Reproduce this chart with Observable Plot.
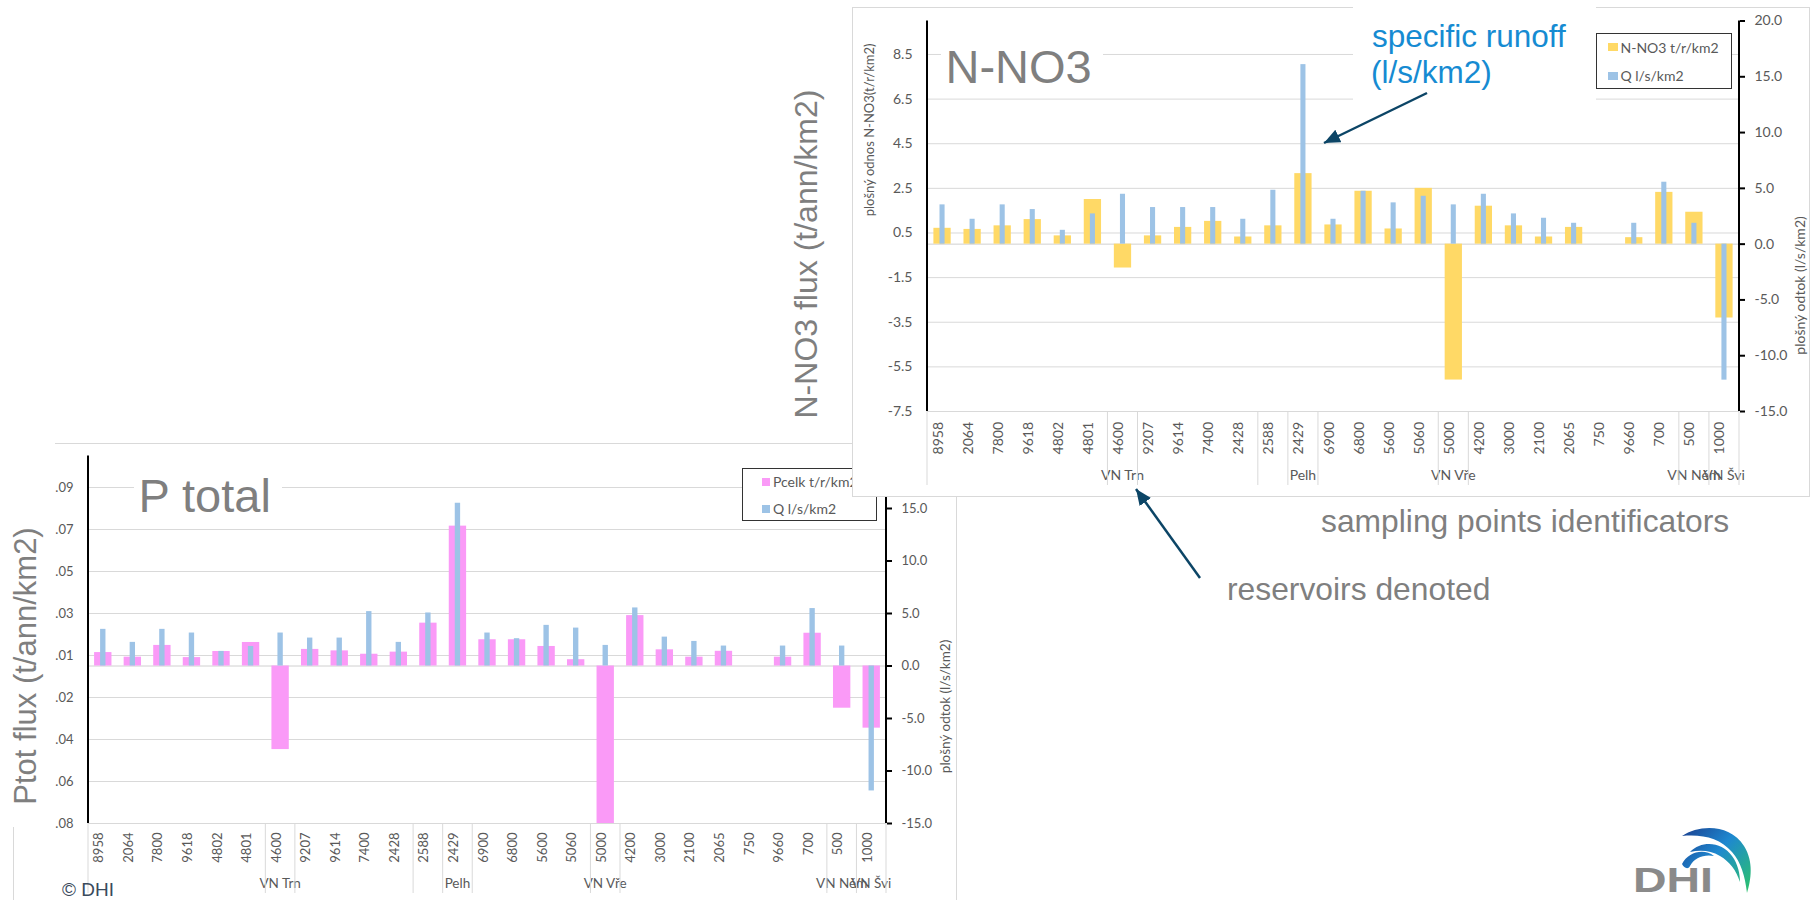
<!DOCTYPE html>
<html>
<head>
<meta charset="utf-8">
<script src="https://cdn.jsdelivr.net/npm/d3@7"></script>
<script src="https://cdn.jsdelivr.net/npm/@observablehq/plot@0.6"></script>
<style>
  html, body { margin: 0; padding: 0; background: #fff; }
  #page { position: relative; width: 1810px; height: 900px; overflow: hidden; background: #fff; font-family: Lato, sans-serif; }
  .abs { position: absolute; }
  .legend { position: absolute; background: #fff; border: 1.5px solid #333; box-sizing: border-box; font-family: Lato, sans-serif; font-size: 14px; color: #595959; }
  .legend .row { position: absolute; height: 18px; display: flex; align-items: center; white-space: nowrap; }
  .legend .sw { display: inline-block; margin-right: 3px; }
</style>
</head>
<body>
<div id="page"></div>
<script>
// ---------------- data ----------------
const stations = ["8958","2064","7800","9618","4802","4801","4600","9207","9614","7400","2428","2588","2429","6900","6800","5600","5060","5000","4200","3000","2100","2065","750","9660","700","500","1000"];
const groupLabels = ["", "VN Trn", "", "", "Pelh", "", "VN Vře", "", "VN Něm", "VN Švi"];
const groupSizes = [6, 1, 4, 1, 1, 4, 1, 7, 1, 1];

const no3Flux = [0.71, 0.66, 0.82, 1.10, 0.37, 2.00, -1.07, 0.37, 0.75, 1.02, 0.32, 0.82, 3.16, 0.86, 2.37, 0.68, 2.50, -6.09, 1.70, 0.82, 0.32, 0.75, null, 0.29, 2.32, 1.43, -3.31];
const no3Runoff = [3.52, 2.23, 3.52, 3.10, 1.24, 2.71, 4.47, 3.28, 3.28, 3.28, 2.23, 4.83, 16.09, 2.23, 4.74, 3.70, 4.29, 3.52, 4.47, 2.71, 2.32, 1.87, null, 1.87, 5.55, 1.87, -12.19];
const pFlux = [0.0064, 0.0042, 0.0098, 0.0040, 0.0069, 0.0112, -0.0398, 0.0079, 0.0072, 0.0056, 0.0066, 0.0204, 0.0666, 0.0125, 0.0125, 0.0093, 0.0030, -0.075, 0.0240, 0.0077, 0.0042, 0.0070, null, 0.0042, 0.0156, -0.0201, -0.0296];
const pRunoff = [3.49, 2.25, 3.49, 3.14, 1.39, 1.86, 3.14, 2.66, 2.66, 5.18, 2.25, 5.05, 15.5, 3.14, 2.60, 3.87, 3.61, 1.96, 5.53, 2.75, 2.34, 1.90, null, 1.90, 5.47, 1.90, -11.9];

const no3Domain = [-7.5, 10];
const no3Ticks = [8.5, 6.5, 4.5, 2.5, 0.5, -1.5, -3.5, -5.5, -7.5];
const no3TickLabels = ["8.5", "6.5", "4.5", "2.5", "0.5", "-1.5", "-3.5", "-5.5", "-7.5"];
const pDomain = [-0.075, 0.1];
const pTicks = [0.085, 0.065, 0.045, 0.025, 0.005, -0.015, -0.035, -0.055, -0.075];
const pTickLabels = [".09", ".07", ".05", ".03", ".01", ".02", ".04", ".06", ".08"];
const runoffDomain = [-15, 20];
const runoffTicks = [20, 15, 10, 5, 0, -5, -10, -15];
const runoffTickLabels = ["20.0", "15.0", "10.0", "5.0", "0.0", "-5.0", "-10.0", "-15.0"];

const no3Series = ["N-NO3 t/r/km2", "Q l/s/km2"];
const pSeries = ["Pcelk t/r/km2", "Q l/s/km2"];
const no3LeftTitle = "plošný odnos N-NO3(t/r/km2)";
const runoffTitle = "plošný odtok (l/s/km2)";

const COL_NO3 = "#FFD966", COL_Q = "#9DC3E6", COL_P = "#FA9AF7";
const TXT = "#595959";

// ---------------- helpers ----------------
function axisLine(side) {
  return (index, scales, values, dims) => {
    const x = side === "left" ? dims.marginLeft : dims.width - dims.marginRight;
    return d3.create("svg:line")
      .attr("x1", x).attr("x2", x)
      .attr("y1", dims.marginTop).attr("y2", dims.height - dims.marginBottom)
      .attr("stroke", "#000").attr("stroke-width", 2).node();
  };
}

function categoryFrame(cfg) {
  return (index, scales, values, dims) => {
    const x = scales.x;
    const bw = x.bandwidth();
    const yb = dims.height - dims.marginBottom;
    const g = d3.create("svg:g");
    const edges = [x(stations[0])];
    let start = 0;
    groupSizes.forEach((n, k) => {
      const x0 = x(stations[start]);
      const x1 = x(stations[start + n - 1]) + bw;
      edges.push(x1);
      if (groupLabels[k]) {
        g.append("text").attr("x", (x0 + x1) / 2).attr("y", yb + cfg.groupDy)
          .attr("text-anchor", "middle").attr("font-size", cfg.groupFs).attr("fill", TXT)
          .text(groupLabels[k]);
      }
      start += n;
    });
    edges.forEach(e => g.append("line").attr("x1", e).attr("x2", e)
      .attr("y1", yb).attr("y2", yb + cfg.sepDepth).attr("stroke", "#d9d9d9"));
    return g.node();
  };
}

function buildChart(container, cfg) {
  const common = {
    width: cfg.width, height: cfg.height,
    marginLeft: cfg.mL, marginRight: cfg.mR, marginTop: cfg.mT, marginBottom: cfg.mB,
    style: { background: "transparent", fontFamily: "Lato, sans-serif", fontSize: cfg.fs + "px", overflow: "visible", position: "absolute", left: "0px", top: "0px" }
  };
  const xOpt = { type: "band", domain: stations, padding: 0, round: false, axis: null };
  const rowsMain = stations.map((s, i) => ({ station: s, value: cfg.main[i] }));
  const rowsQ = stations.map((s, i) => ({ station: s, value: cfg.q[i] }));
  const leftLab = new Map(cfg.ticks.map((v, i) => [v, cfg.tickLabels[i]]));
  const rightLab = new Map(runoffTicks.map((v, i) => [v, runoffTickLabels[i]]));

  const marksA = [
    Plot.gridY(cfg.ticks, { stroke: "#d9d9d9", strokeOpacity: 1 }),
    Plot.ruleY([0], { stroke: "#d0d0d0" }),
    Plot.barY(rowsMain, { x: "station", y: "value", fill: cfg.mainColor, insetLeft: cfg.mainInset, insetRight: cfg.mainInset }),
    Plot.axisY(cfg.ticks, { anchor: "left", tickSize: 0, tickPadding: 15, label: null, tickFormat: d => leftLab.get(d), fill: TXT, fontSize: cfg.fs }),
    Plot.text(stations, { x: d => d, text: d => d, frameAnchor: "bottom", rotate: -90, textAnchor: "end", dy: cfg.tickDy, fill: TXT, fontSize: cfg.fs }),
    categoryFrame(cfg),
    axisLine("left")
  ];
  if (cfg.leftTitle) {
    marksA.push(Plot.text([cfg.leftTitle], { frameAnchor: "left", rotate: -90, dx: cfg.leftTitleDx, text: d => d, fill: TXT, fontSize: 13 }));
  }
  const layerA = Plot.plot({ ...common, x: xOpt, y: { domain: cfg.domain }, marks: marksA });

  const layerB = Plot.plot({
    ...common, x: xOpt, y: { domain: runoffDomain },
    marks: [
      Plot.barY(rowsQ, { x: "station", y: "value", fill: COL_Q, insetLeft: cfg.qInset, insetRight: cfg.qInset }),
      Plot.axisY(runoffTicks, { anchor: "right", tickSize: 5, tickPadding: 10, label: null, tickFormat: d => rightLab.get(d), fill: TXT, stroke: "#000", strokeWidth: 2, fontSize: cfg.fs }),
      axisLine("right"),
      Plot.text([runoffTitle], { frameAnchor: "right", rotate: -90, dx: cfg.rightTitleDx, text: d => d, fill: TXT, fontSize: cfg.rightTitleFs })
    ]
  });
  container.appendChild(layerA);
  container.appendChild(layerB);
}

function legend(parent, pos, names, colors, sw) {
  const box = document.createElement("div");
  box.className = "legend";
  Object.assign(box.style, { left: pos.left + "px", top: pos.top + "px", width: pos.w + "px", height: pos.h + "px" });
  names.forEach((n, i) => {
    const row = document.createElement("div");
    row.className = "row";
    row.style.left = pos.rowLeft + "px";
    row.style.top = pos.rowTops[i] + "px";
    const s = document.createElement("span");
    s.className = "sw";
    Object.assign(s.style, { width: sw[0] + "px", height: sw[1] + "px", background: colors[i] });
    row.appendChild(s);
    row.appendChild(document.createTextNode(n));
    box.appendChild(row);
  });
  parent.appendChild(box);
}

// ---------------- layout ----------------
const page = document.getElementById("page");

// P total chart (underneath)
const pBox = document.createElement("div");
pBox.className = "abs";
Object.assign(pBox.style, { left: "0px", top: "443px", width: "960px", height: "457px" });
page.appendChild(pBox);
buildChart(pBox, {
  width: 960, height: 457, mL: 88, mR: 74, mT: 12.5, mB: 77, fs: 13,
  main: pFlux, q: pRunoff, mainColor: COL_P, mainInset: 6.1, qInset: 12.1,
  domain: pDomain, ticks: pTicks, tickLabels: pTickLabels,
  tickDy: 9, groupDy: 65, groupFs: 13.5, sepDepth: 70,
  leftTitle: null, rightTitleDx: 59, rightTitleFs: 13.5
});
legend(page, { left: 742, top: 468, w: 135, h: 53, rowLeft: 19, rowTops: [3.5, 30.5] }, pSeries, [COL_P, COL_Q], [8, 8]);

// N-NO3 chart (on top)
const nBox = document.createElement("div");
nBox.className = "abs";
Object.assign(nBox.style, { left: "852px", top: "7px", width: "958px", height: "490px", background: "#fff", boxShadow: "inset 0 0 0 1px #d9d9d9" });
page.appendChild(nBox);
buildChart(nBox, {
  width: 958, height: 490, mL: 75, mR: 71, mT: 13.5, mB: 86, fs: 14,
  main: no3Flux, q: no3Runoff, mainColor: COL_NO3, mainInset: 6.4, qInset: 12.5,
  domain: no3Domain, ticks: no3Ticks, tickLabels: no3TickLabels,
  tickDy: 10.5, groupDy: 69, groupFs: 14, sepDepth: 74,
  leftTitle: no3LeftTitle, leftTitleDx: -58, rightTitleDx: 61, rightTitleFs: 14
});
legend(page, { left: 1596, top: 33, w: 136, h: 56, rowLeft: 10.5, rowTops: [4, 32.5] }, no3Series, [COL_NO3, COL_Q], [10, 8]);

// ---------------- annotations overlay ----------------
const ov = d3.select(page).append("svg")
  .attr("width", 1810).attr("height", 900)
  .style("position", "absolute").style("left", "0px").style("top", "0px").style("pointer-events", "none")
  .style("font-family", "'Liberation Sans', Arial, sans-serif");
const defs = ov.append("defs");
defs.append("marker").attr("id", "ah").attr("markerUnits", "userSpaceOnUse")
  .attr("markerWidth", 18).attr("markerHeight", 16).attr("refX", 16).attr("refY", 7).attr("orient", "auto")
  .append("path").attr("d", "M0,0 L16,7 L0,14 Z").attr("fill", "#0c4566");
const grad = defs.append("linearGradient").attr("id", "dhiGrad").attr("gradientUnits", "userSpaceOnUse")
  .attr("x1", 1682).attr("y1", 828).attr("x2", 1750).attr("y2", 892);
grad.append("stop").attr("offset", 0).attr("stop-color", "#1b3f8f");
grad.append("stop").attr("offset", 0.45).attr("stop-color", "#1e88d0");
grad.append("stop").attr("offset", 1).attr("stop-color", "#2cc36b");

// P chart frame lines
ov.append("line").attr("x1", 55).attr("x2", 852).attr("y1", 443.5).attr("y2", 443.5).attr("stroke", "#d9d9d9");
ov.append("line").attr("x1", 956.5).attr("x2", 956.5).attr("y1", 497).attr("y2", 900).attr("stroke", "#d9d9d9");
ov.append("line").attr("x1", 13.5).attr("x2", 13.5).attr("y1", 827).attr("y2", 900).attr("stroke", "#d9d9d9");

// chart titles
ov.append("rect").attr("x", 134).attr("y", 468).attr("width", 148).attr("height", 54).attr("fill", "#fff");
ov.append("text").attr("x", 138.5).attr("y", 512).attr("font-size", 47).attr("fill", "#7f7f7f").text("P total");
ov.append("rect").attr("x", 941).attr("y", 38).attr("width", 162).attr("height", 56).attr("fill", "#fff");
ov.append("text").attr("x", 945.5).attr("y", 83).attr("font-size", 47).attr("fill", "#7f7f7f").text("N-NO3");

// big rotated axis titles
ov.append("text").attr("transform", "translate(817,254) rotate(-90)").attr("text-anchor", "middle")
  .attr("font-size", 32).attr("fill", "#7f7f7f").text("N-NO3 flux (t/ann/km2)");
ov.append("text").attr("transform", "translate(36,666) rotate(-90)").attr("text-anchor", "middle")
  .attr("font-size", 31).attr("fill", "#7f7f7f").text("Ptot flux (t/ann/km2)");

// specific runoff callout
ov.append("rect").attr("x", 1353).attr("y", 0).attr("width", 243).attr("height", 102).attr("fill", "#fff");
ov.append("text").attr("x", 1372).attr("y", 47).attr("font-size", 31.5).attr("fill", "#168bd2").text("specific runoff");
ov.append("text").attr("x", 1371).attr("y", 83).attr("font-size", 31.5).attr("fill", "#168bd2").text("(l/s/km2)");
ov.append("line").attr("x1", 1427).attr("y1", 93).attr("x2", 1324).attr("y2", 143)
  .attr("stroke", "#0c4566").attr("stroke-width", 2.5).attr("marker-end", "url(#ah)");

// other annotations
ov.append("text").attr("x", 1321).attr("y", 532).attr("font-size", 31.8).attr("fill", "#7f7f7f").text("sampling points identificators");
ov.append("text").attr("x", 1227).attr("y", 600).attr("font-size", 31.8).attr("fill", "#7f7f7f").text("reservoirs denoted");
ov.append("line").attr("x1", 1200).attr("y1", 578).attr("x2", 1136).attr("y2", 489)
  .attr("stroke", "#0c4566").attr("stroke-width", 2.5).attr("marker-end", "url(#ah)");

// footer
ov.append("text").attr("x", 62).attr("y", 896).attr("font-size", 19).attr("fill", "#3a4a5c").text("© DHI");

// DHI logo
ov.append("text").attr("x", 1633).attr("y", 892).attr("font-size", 35).attr("font-weight", "bold")
  .attr("fill", "#8a8a8a").attr("textLength", 80).attr("lengthAdjust", "spacingAndGlyphs").text("DHI");
[
  "M1682,836 C1700,824 1730,824 1744,846 C1754,862 1751,880 1747,893 C1745,876 1741,862 1732,852 C1720,838 1702,834 1682,836 Z",
  "M1690,852 C1702,840 1722,842 1732,856 C1738,864 1740,874 1740,882 C1736,870 1730,862 1720,856 C1710,850 1700,850 1690,852 Z",
  "M1682,864 C1688,852 1704,848 1714,856 C1704,854 1694,858 1690,866 C1688,870 1684,868 1682,864 Z"
].forEach(d => ov.append("path").attr("d", d).attr("fill", "url(#dhiGrad)"));
</script>
</body>
</html>
